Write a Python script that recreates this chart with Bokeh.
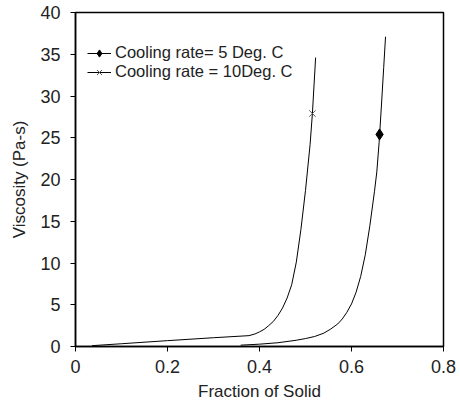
from bokeh.plotting import figure
from bokeh.models import FixedTicker, Legend, LegendItem, Range1d
from bokeh.embed import file_html
from bokeh.resources import INLINE

# Cooling rate = 5 Deg. C
x5 = [0.359, 0.40, 0.44, 0.48, 0.50, 0.52, 0.54, 0.555, 0.57, 0.58, 0.59, 0.60, 0.61,
      0.62, 0.63, 0.64, 0.65, 0.655, 0.66, 0.665, 0.67, 0.674]
y5 = [0.16, 0.28, 0.45, 0.75, 0.95, 1.2, 1.6, 2.1, 2.7, 3.3, 4.1, 5.1, 6.5,
      8.4, 11.0, 14.5, 18.6, 20.9, 24.4, 28.8, 33.4, 37.1]
mark5_x = [0.661]
mark5_y = [25.4]

# Cooling rate = 10 Deg. C
x10 = [0.036, 0.10, 0.20, 0.30, 0.377, 0.39, 0.40, 0.41, 0.42, 0.43, 0.44, 0.45, 0.46,
       0.47, 0.48, 0.49, 0.50, 0.51, 0.515, 0.522]
y10 = [0.1, 0.33, 0.7, 1.05, 1.3, 1.5, 1.75, 2.05, 2.5, 3.0, 3.7, 4.6, 5.8,
       7.4, 10.1, 14.0, 18.7, 24.2, 27.9, 34.6]
mark10_x = [0.515]
mark10_y = [27.9]

x_ticks = [0, 0.2, 0.4, 0.6, 0.8]
x_tick_labels = ["0", "0.2", "0.4", "0.6", "0.8"]
y_ticks = [0, 5, 10, 15, 20, 25, 30, 35, 40]
y_tick_labels = ["0", "5", "10", "15", "20", "25", "30", "35", "40"]

FONT = "Liberation Sans"

p = figure(width=460, height=403, output_backend="svg", toolbar_location=None,
           x_range=Range1d(0, 0.8), y_range=Range1d(0, 40),
           min_border_left=75, min_border_right=17, min_border_top=12, min_border_bottom=56)
p.grid.visible = False
p.outline_line_color = "black"
p.outline_line_width = 1.5
p.background_fill_color = "white"
p.border_fill_color = "white"

for ax, ticks, labels, name in [(p.xaxis[0], x_ticks, x_tick_labels, "Fraction of Solid"),
                                 (p.yaxis[0], y_ticks, y_tick_labels, "Viscosity (Pa-s)")]:
    ax.ticker = FixedTicker(ticks=ticks)
    ax.major_label_overrides = {t: l for t, l in zip(ticks, labels)}
    ax.axis_label = name
    ax.axis_label_text_font = FONT
    ax.axis_label_text_font_size = "17px"
    ax.axis_label_text_font_style = "normal"
    ax.axis_label_text_color = "#222222"
    ax.major_label_text_font = FONT
    ax.major_label_text_font_size = "18px"
    ax.major_label_text_color = "#222222"
    ax.axis_line_color = "black"
    ax.axis_line_width = 1.5
    ax.major_tick_line_color = "black"
    ax.major_tick_out = 5
    ax.major_tick_in = 0
    ax.minor_tick_line_color = None

p.xaxis.major_label_standoff = 8
p.xaxis.axis_label_standoff = 6
p.yaxis.major_label_standoff = 10
p.yaxis.axis_label_standoff = 8

l5 = p.line(x5, y5, line_color="black", line_width=1)
m5 = p.scatter(mark5_x, mark5_y, marker="diamond", size=11, fill_color="black", line_color="black")
l10 = p.line(x10, y10, line_color="black", line_width=1)
m10 = p.scatter(mark10_x, mark10_y, marker="x", size=9, line_color="#555555", line_width=1)

legend = Legend(items=[
    LegendItem(label="Cooling rate= 5 Deg. C", renderers=[l5, m5]),
    LegendItem(label="Cooling rate = 10Deg. C", renderers=[l10, m10]),
], location=(12, 265))
legend.background_fill_alpha = 0
legend.border_line_color = None
legend.label_text_font = FONT
legend.label_text_font_size = "16.5px"
legend.label_text_color = "#222222"
legend.glyph_width = 24
legend.glyph_height = 18
legend.label_height = 18
legend.label_standoff = 4
legend.spacing = 0
legend.padding = 0
legend.margin = 0
p.add_layout(legend, "center")

open("out.html", "w").write(file_html(p, INLINE))
